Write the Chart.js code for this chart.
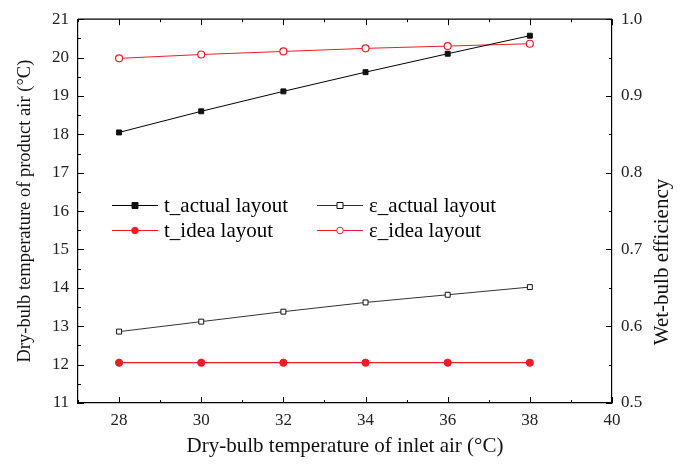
<!DOCTYPE html>
<html>
<head>
<meta charset="utf-8">
<script src="https://cdn.jsdelivr.net/npm/chart.js@4/dist/chart.umd.min.js"></script>
<style>
  html, body { margin: 0; padding: 0; background: #fff; }
  #wrap { width: 681px; height: 467px; position: relative; }
</style>
</head>
<body>
<div id="wrap"><canvas id="chart"></canvas></div>
<script>
// inlet air dry-bulb temperature (x)
var xValues = [28, 30, 32, 34, 36, 38];
// product air temperature, left axis
var tActual = [18.05, 18.6, 19.12, 19.62, 20.1, 20.57];
var tIdea = [12.05, 12.05, 12.05, 12.05, 12.05, 12.05];
// wet-bulb efficiency, right axis
var effActual = [0.593, 0.606, 0.619, 0.631, 0.641, 0.651];
var effIdea = [0.949, 0.954, 0.958, 0.962, 0.965, 0.968];

var xTicks = [28, 30, 32, 34, 36, 38, 40];
var leftTicks = [11, 12, 13, 14, 15, 16, 17, 18, 19, 20, 21];
var rightTicks = [0.5, 0.6, 0.7, 0.8, 0.9, 1.0];

var RED = '#ee1c24';
var FONT = '"Liberation Serif", "Times New Roman", serif';

function pts(ys) {
    return xValues.map(function (x, i) { return { x: x, y: ys[i] }; });
}

// inward ticks on all four sides, top frame line, legend and right title
var frameTicks = {
    id: 'frameTicks',
    afterDraw: function (chart) {
        var ctx = chart.ctx;
        var a = chart.chartArea;
        var sx = chart.scales.x, sy = chart.scales.y, sy2 = chart.scales.y2;
        ctx.save();
        ctx.strokeStyle = '#000';
        ctx.lineWidth = 1.2;
        ctx.beginPath();
        ctx.moveTo(a.left, a.top);
        ctx.lineTo(a.right, a.top);
        ctx.stroke();
        ctx.lineWidth = 1;
        ctx.beginPath();
        var v, p, len;
        for (v = 27; v <= 40; v += 1) {
            p = Math.round(sx.getPixelForValue(v)) + 0.5;
            len = v % 2 === 0 ? 6 : 3;
            ctx.moveTo(p, a.bottom); ctx.lineTo(p, a.bottom - len);
            ctx.moveTo(p, a.top); ctx.lineTo(p, a.top + len);
        }
        for (v = 11; v <= 21.001; v += 0.5) {
            p = Math.round(sy.getPixelForValue(v)) + 0.5;
            len = Math.abs(v - Math.round(v)) < 0.01 ? 6 : 3;
            ctx.moveTo(a.left, p); ctx.lineTo(a.left + len, p);
        }
        for (v = 0.5; v <= 1.0001; v += 0.05) {
            p = Math.round(sy2.getPixelForValue(v)) + 0.5;
            len = Math.abs(v * 10 - Math.round(v * 10)) < 0.01 ? 6 : 3;
            ctx.moveTo(a.right, p); ctx.lineTo(a.right - len, p);
        }
        ctx.stroke();

        // legend inside the plot
        var items = [
            { ds: 0, x: 112, y: 205 },
            { ds: 2, x: 317, y: 205 },
            { ds: 1, x: 112, y: 230 },
            { ds: 3, x: 317, y: 230 }
        ];
        ctx.font = '21px ' + FONT;
        ctx.textBaseline = 'middle';
        ctx.textAlign = 'left';
        items.forEach(function (it) {
            var ds = chart.data.datasets[it.ds];
            ctx.strokeStyle = ds.borderColor;
            ctx.lineWidth = 1;
            ctx.beginPath();
            ctx.moveTo(it.x, it.y + 0.5);
            ctx.lineTo(it.x + 46, it.y + 0.5);
            ctx.stroke();
            var cx = it.x + 23;
            ctx.fillStyle = ds.pointBackgroundColor;
            ctx.strokeStyle = ds.pointBorderColor;
            ctx.beginPath();
            if (ds.pointStyle === 'rect') {
                ctx.rect(cx - 3, it.y - 2.5, 6, 6);
            } else {
                ctx.arc(cx, it.y + 0.5, 3.3, 0, Math.PI * 2);
            }
            ctx.fill();
            ctx.stroke();
            ctx.fillStyle = '#000';
            ctx.fillText(ds.label, it.x + 52, it.y + 1);
        });

        // right axis title, reading bottom to top
        ctx.translate(662, 262);
        ctx.rotate(-Math.PI / 2);
        ctx.textAlign = 'center';
        ctx.fillStyle = '#111';
        ctx.font = '21px ' + FONT;
        ctx.fillText('Wet-bulb efficiency', 0, 0);
        ctx.restore();
    }
};

new Chart(document.getElementById('chart'), {
    type: 'line',
    data: {
        datasets: [
            {
                label: 't_actual layout',
                data: pts(tActual),
                yAxisID: 'y',
                borderColor: '#000',
                borderWidth: 1,
                pointStyle: 'rect',
                pointRadius: 3.5,
                pointBackgroundColor: '#111',
                pointBorderColor: '#111',
                pointBorderWidth: 1
            },
            {
                label: 't_idea layout',
                data: pts(tIdea),
                yAxisID: 'y',
                borderColor: RED,
                borderWidth: 1.2,
                pointStyle: 'circle',
                pointRadius: 3.6,
                pointBackgroundColor: RED,
                pointBorderColor: RED,
                pointBorderWidth: 1
            },
            {
                label: 'ε_actual layout',
                data: pts(effActual),
                yAxisID: 'y2',
                borderColor: '#333',
                borderWidth: 1,
                pointStyle: 'rect',
                pointRadius: 3.5,
                pointBackgroundColor: '#fff',
                pointBorderColor: '#111',
                pointBorderWidth: 1
            },
            {
                label: 'ε_idea layout',
                data: pts(effIdea),
                yAxisID: 'y2',
                borderColor: RED,
                borderWidth: 1,
                pointStyle: 'circle',
                pointRadius: 3.5,
                pointBackgroundColor: '#fff',
                pointBorderColor: RED,
                pointBorderWidth: 1.2
            }
        ]
    },
    options: {
        responsive: true,
        maintainAspectRatio: false,
        animation: false,
        layout: { padding: { top: 18, left: 0, right: 0, bottom: 0 } },
        plugins: { legend: { display: false }, tooltip: { enabled: false } },
        scales: {
            x: {
                type: 'linear',
                min: 27,
                max: 40,
                afterBuildTicks: function (s) { s.ticks = xTicks.map(function (v) { return { value: v }; }); },
                afterFit: function (s) { s.height = 64; },
                grid: { display: false, drawTicks: false },
                border: { display: true, color: '#000', width: 1.2 },
                ticks: { color: '#222', padding: 7, font: { family: FONT, size: 17 } },
                title: {
                    display: true,
                    text: 'Dry-bulb temperature of inlet air (°C)',
                    color: '#111',
                    font: { family: FONT, size: 21 },
                    padding: { top: 0, bottom: 8 }
                }
            },
            y: {
                position: 'left',
                min: 11,
                max: 21,
                afterBuildTicks: function (s) { s.ticks = leftTicks.map(function (v) { return { value: v }; }); },
                afterFit: function (s) { s.width = 78; },
                grid: { display: false, drawTicks: false },
                border: { display: true, color: '#000', width: 1.2 },
                ticks: { color: '#222', padding: 9, font: { family: FONT, size: 17 } },
                title: {
                    display: true,
                    text: 'Dry-bulb temperature of product air (°C)',
                    color: '#111',
                    font: { family: FONT, size: 18.5 },
                    padding: { top: 14, bottom: 0 }
                }
            },
            y2: {
                position: 'right',
                min: 0.5,
                max: 1.0,
                afterBuildTicks: function (s) { s.ticks = rightTicks.map(function (v) { return { value: v }; }); },
                afterFit: function (s) { s.width = 69; },
                grid: { display: false, drawTicks: false },
                border: { display: true, color: '#000', width: 1.2 },
                ticks: {
                    color: '#222',
                    padding: 9,
                    font: { family: FONT, size: 17 },
                    callback: function (v) { return Number(v).toFixed(1); }
                }
            }
        }
    },
    plugins: [frameTicks]
});
</script>
</body>
</html>
